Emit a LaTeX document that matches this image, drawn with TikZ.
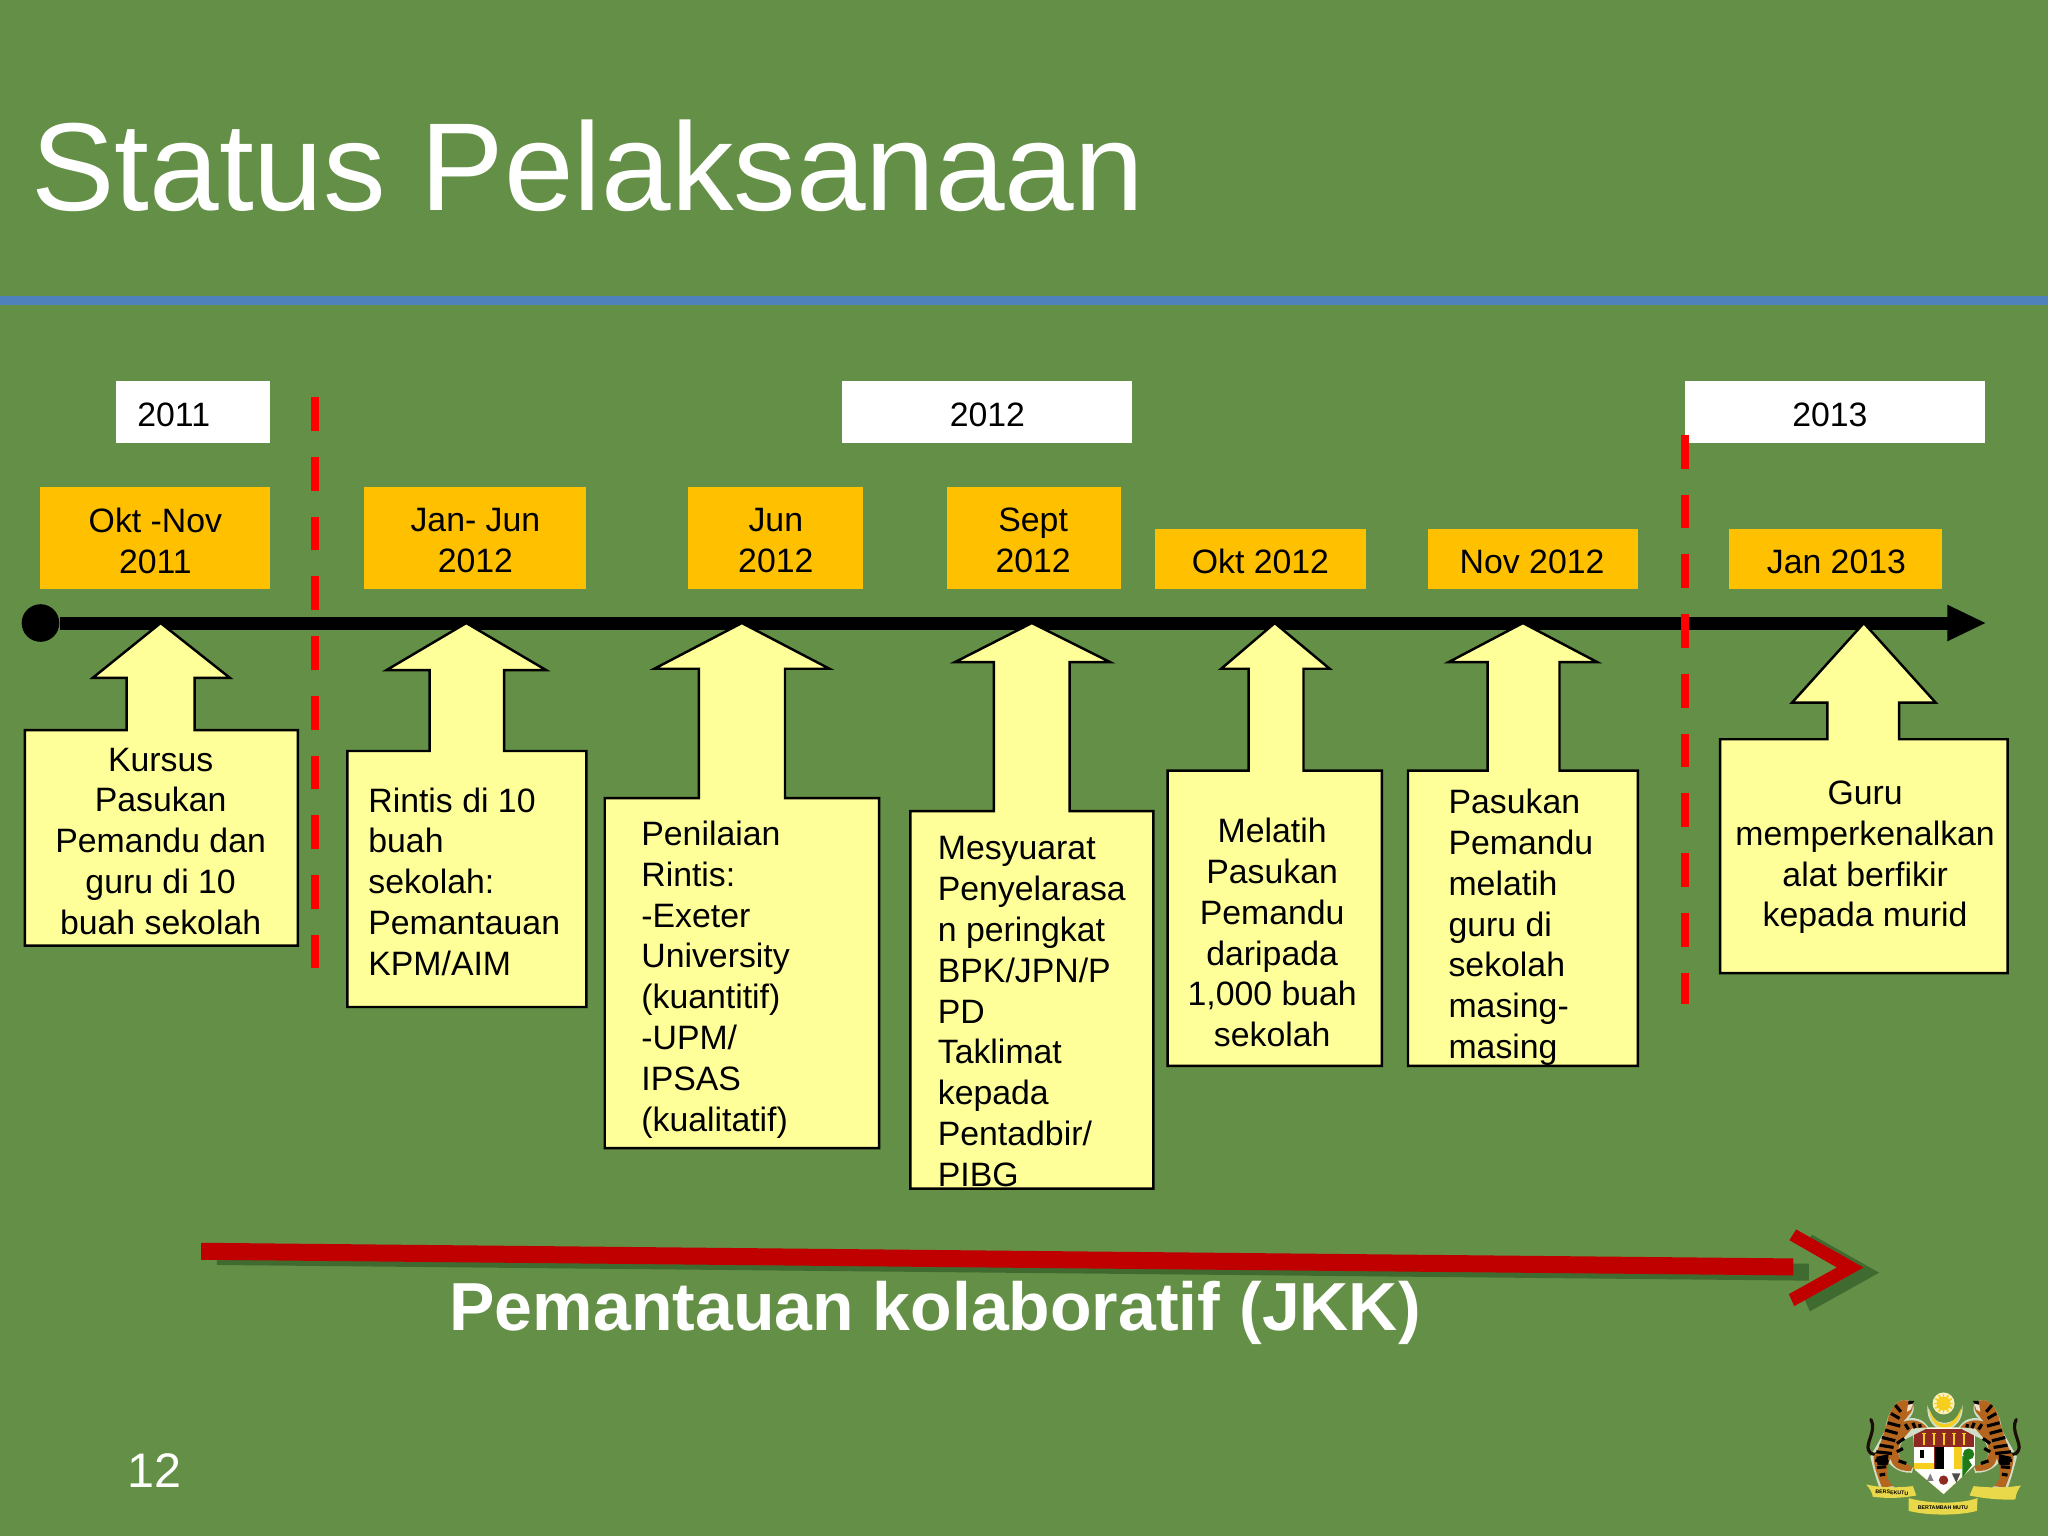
\documentclass[tikz,border=0pt]{standalone}
\usepackage{fontspec}
\setmainfont{Liberation Sans}
\usetikzlibrary{arrows.meta}
\definecolor{bgc}{HTML}{648F46}
\definecolor{rulec}{HTML}{4F81BD}
\definecolor{orangec}{HTML}{FFC000}
\definecolor{yellowc}{HTML}{FFFF99}
\definecolor{shadowc}{HTML}{406B30}
\definecolor{darkred}{HTML}{C00000}
\definecolor{tigerc}{HTML}{B5661E}
\definecolor{sunc}{HTML}{F6CF1E}
\definecolor{ribbonc}{HTML}{E8D84A}
\definecolor{shieldred}{HTML}{8E2A22}
\newcommand{\bodyfont}{\fontsize{9.62}{11.6}\selectfont}
\newcommand{\mytiger}{%
  \fill[white!70!bgc] (372,150) .. controls (410,150) and (405,190) .. (385,205) .. controls (410,200) and (430,210) .. (445,232) -- (370,270) .. controls (345,300) and (350,340) .. (400,352) -- (395,368) .. controls (350,370) and (325,340) .. (320,330) .. controls (310,360) and (310,400) .. (345,412) -- (300,420) .. controls (285,380) and (278,350) .. (270,320) -- (315,240) .. controls (320,190) and (345,150) .. (372,150) -- cycle;
  \draw[black!85!tigerc,line width=0.9pt,line cap=round] (272,208) .. controls (290,240) and (255,280) .. (265,300) .. controls (275,320) and (290,312) .. (300,305);
  \fill[tigerc] (370,150) .. controls (405,150) and (402,180) .. (385,195) .. controls (382,205) and (372,208) .. (368,215) .. controls (395,205) and (425,212) .. (440,232) -- (395,235) -- (365,270) .. controls (345,305) and (350,335) .. (398,350) -- (392,362) .. controls (352,365) and (335,345) .. (330,325) .. controls (315,360) and (318,395) .. (340,408) -- (305,412) .. controls (295,385) and (280,350) .. (280,320) .. controls (300,290) and (310,250) .. (320,220) .. controls (325,185) and (345,152) .. (370,150) -- cycle;
  \foreach \xa/\ya/\xb/\yb in {345/165/362/185,332/190/358/205,322/218/360/228,315/240/352/250,305/262/345/272,298/285/340/292,288/305/335/310,285/330/325/335,290/352/318/350,298/375/315/372,350/280/372/265,350/305/368/295,355/332/378/340,375/222/385/238,398/218/405/234,418/222/420/232}{
    \draw[black,line width=0.9pt] (\xa,\ya) -- (\xb,\yb);}
  \fill[black] (288,320) -- (325,312) -- (322,345) -- (292,345) -- cycle;
  \fill[white!80!tigerc] (383,165) -- (398,160) -- (392,178) -- (380,185) -- cycle;
  \fill[black] (385,152) -- (402,152) -- (398,160) -- (384,163) -- cycle;
}
\tikzset{
  x=0.013061cm, y=-0.013061cm,
  yearbox/.style={fill=white,draw=none,minimum height=0pt},
  monthbox/.style={fill=orangec,draw=none},
  callout/.style={fill=yellowc,draw=black,line width=0.7pt,line join=miter},
  bodytext/.style={font=\bodyfont,text=black,inner sep=0pt},
  ctext/.style={bodytext,align=center},
  ltext/.style={bodytext,align=left},
  yearline/.style={draw=red,line width=2.2pt,dash pattern=on 9.6pt off 7.4pt},
}
\begin{document}
\begin{tikzpicture}
\useasboundingbox (0,0) rectangle (1568,1176);
\fill[bgc] (0,0) rectangle (1568,1176);
\fill[rulec] (0,227) rectangle (1568,233.5);
\node[anchor=base west,inner sep=0pt,text=white,font=\fontsize{35.6}{40}\selectfont] (title) at (23.5,161) {Status Pelaksanaan};

% year boxes
\fill[yearbox] (89,292) rectangle (207,339);
\fill[yearbox] (645,292) rectangle (867,339);
\fill[yearbox] (1290,292) rectangle (1520,339);
\node[bodytext] (y11) at (133,317.5) {2011};
\node[bodytext] (y12) at (756,317.5) {2012};
\node[bodytext] (y13) at (1401,317.5) {2013};

% month boxes
\fill[monthbox] (31,373) rectangle (207,451);
\fill[monthbox] (279,373) rectangle (449,451);
\fill[monthbox] (527,373) rectangle (661,451);
\fill[monthbox] (725,373) rectangle (858,451);
\fill[monthbox] (884,405) rectangle (1046,451);
\fill[monthbox] (1093,405) rectangle (1254,451);
\fill[monthbox] (1324,405) rectangle (1487,451);
\node[ctext] (m1) at (119,414) {Okt -Nov\\2011};
\node[ctext] (m2) at (364,414) {Jan- Jun\\2012};
\node[ctext] (m3) at (594,414) {Jun\\2012};
\node[ctext] (m4) at (791,414) {Sept\\2012};
\node[ctext] (m5) at (965,430) {Okt 2012};
\node[ctext] (m6) at (1173,430) {Nov 2012};
\node[ctext] (m7) at (1406,430) {Jan 2013};

% dashed year separators
\coordinate (d1a) at (241,304);
\coordinate (d1b) at (241,741);
\coordinate (d2a) at (1290,333);
\coordinate (d2b) at (1290,769);
\draw[yearline] (d1a) -- (d1b);

% timeline
\node[circle,fill=black,draw=none,minimum size=10.7pt,inner sep=0pt] (tstart) at (31,477) {};
\coordinate (tend) at (1492,477);
\coordinate (ttip) at (1520,477);
\draw[line width=3.7pt,black] (tstart) -- (tend);
\fill[black] (1491,463) -- (ttip) -- (1491,491) -- cycle;
\draw[yearline] (d2a) -- (d2b);

% callouts
\draw[callout] (19,724) -- (19,559) -- (97,559) -- (97,519) -- (71,519) -- (123,477) -- (176,519) -- (149,519) -- (149,559) -- (228,559) -- (228,724) -- cycle;
\draw[callout] (266,771) -- (266,575) -- (329,575) -- (329,513) -- (296,513) -- (357,477) -- (418,513) -- (386,513) -- (386,575) -- (449,575) -- (449,771) -- cycle;
\draw[callout] (463,879) -- (463,611) -- (535,611) -- (535,512) -- (501,512) -- (568,477) -- (635,512) -- (601,512) -- (601,611) -- (673,611) -- (673,879) -- cycle;
\draw[callout] (697,910) -- (697,621) -- (761,621) -- (761,507) -- (731,507) -- (790,477) -- (850,507) -- (819,507) -- (819,621) -- (883,621) -- (883,910) -- cycle;
\draw[callout] (894,816) -- (894,590) -- (956,590) -- (956,512) -- (935,512) -- (976,477) -- (1018,512) -- (998,512) -- (998,590) -- (1058,590) -- (1058,816) -- cycle;
\draw[callout] (1078,816) -- (1078,590) -- (1139,590) -- (1139,507) -- (1109,507) -- (1166,477) -- (1223,507) -- (1194,507) -- (1194,590) -- (1254,590) -- (1254,816) -- cycle;
\draw[callout] (1317,745) -- (1317,566) -- (1399,566) -- (1399,538) -- (1372,538) -- (1427,477) -- (1482,538) -- (1454,538) -- (1454,566) -- (1537,566) -- (1537,745) -- cycle;

\node[ctext] (c1) at (123,644) {Kursus\\Pasukan\\Pemandu dan\\guru di 10\\buah sekolah};
\node[ltext,anchor=west] (c2) at (281.5,675) {Rintis di 10\\buah\\sekolah:\\Pemantauan\\KPM/AIM};
\node[ltext,anchor=west] (c3) at (490.5,750) {Penilaian\\Rintis:\\-Exeter\\University\\(kuantitif)\\-UPM/\\IPSAS\\(kualitatif)};
\node[ltext,anchor=west] (c4) at (717.5,774.5) {Mesyuarat\\Penyelarasa\\n peringkat\\BPK/JPN/P\\PD\\Taklimat\\kepada\\Pentadbir/\\PIBG};
\node[ctext] (c5) at (974,714) {Melatih\\Pasukan\\Pemandu\\daripada\\1,000 buah\\sekolah};
\node[ltext,anchor=west] (c6) at (1108.5,710) {Pasukan\\Pemandu\\melatih\\guru di\\sekolah\\masing-\\masing};
\node[ctext] (c7) at (1428,656.5) {Guru\\memperkenalkan\\alat berfikir\\kepada murid};

% monitoring arrow: shadow
\begin{scope}[shift={(12,4)}]
\fill[shadowc] (154,951.5) -- (1373,963.5) -- (1373,976.5) -- (154,964.5) -- cycle;
\fill[shadowc] (1375.2,941.3) -- (1426.7,970.4) -- (1373.7,1000) -- (1369.6,990.8) -- (1406.3,970.4) -- (1370,949.5) -- cycle;
\end{scope}
\fill[darkred] (154,951.5) -- (1373,963.5) -- (1373,976.5) -- (154,964.5) -- cycle;
\fill[darkred] (1375.2,941.3) -- (1426.7,970.4) -- (1373.7,1000) -- (1369.6,990.8) -- (1406.3,970.4) -- (1370,949.5) -- cycle;
\node[anchor=base,inner sep=0pt,text=white,font=\bfseries\fontsize{19.35}{22}\selectfont] (pem) at (716,1019) {Pemantauan kolaboratif (JKK)};
\node[anchor=base west,inner sep=0pt,text=white,font=\fontsize{13.8}{16}\selectfont] (num) at (97,1139) {12};

% coat of arms
\begin{scope}[shift={(1363,1033.7)},scale=0.2552]
  % crescent and sun
  \fill[white!70!bgc] (442,165) .. controls (436,215) and (470,240) .. (490,240) .. controls (520,240) and (552,210) .. (547,165) .. controls (540,205) and (515,218) .. (490,218) .. controls (470,218) and (450,200) .. (442,165) -- cycle;
  \fill[sunc] (447,175) .. controls (448,215) and (475,234) .. (492,234) .. controls (515,234) and (542,212) .. (542,175) .. controls (530,208) and (510,222) .. (492,222) .. controls (475,222) and (458,208) .. (447,175) -- cycle;
  \fill[white!70!sunc] (490,160) circle (33);
  \foreach \a in {0,30,...,330}{\draw[sunc,line width=0.5pt] (490,160) -- ++(\a:29);}
  \fill[sunc] (490,160) circle (21);
  % shield
  \fill[white!90!sunc] (398,232) -- (584,232) -- (584,345) -- (490,432) -- (405,360) -- cycle;
  \fill[shieldred] (402,237) rectangle (580,292);
  \foreach \dx in {430,460,490,520,550}{\fill[sunc] (\dx-3,252) rectangle (\dx+3,285); \fill[sunc] (\dx-6,248) rectangle (\dx+6,253);}
  \fill[white] (402,292) rectangle (460,340);
  \fill[black] (420,300) rectangle (430,325);
  \fill[sunc] (402,338) rectangle (460,356);
  \fill[shieldred] (460,292) rectangle (465,356);
  \fill[black] (465,292) rectangle (490,356);
  \fill[white] (490,292) rectangle (520,356);
  \fill[sunc] (520,292) rectangle (546,356);
  \fill[white] (546,292) rectangle (580,345);
  \fill[black!55!green!70!bgc] (565,312) circle (17);
  \fill[black!55!green!70!bgc] (546,318) -- (560,320) -- (575,345) -- (546,382) -- cycle;
  \fill[white] (410,360) -- (546,360) -- (490,428) -- cycle;
  \fill[black!50] (450,370) -- (460,392) -- (440,392) -- cycle;
  \fill[shieldred] (490,390) circle (14);
  \fill[black!70] (515,370) -- (540,370) -- (528,398) -- cycle;
  % tigers
  \mytiger
  \begin{scope}[shift={(980,0)},xscale=-1]
    \mytiger
  \end{scope}
  % ribbon
  \fill[ribbonc] (258,403) .. controls (310,415) and (360,412) .. (398,408) -- (408,436) .. controls (360,445) and (320,445) .. (278,440) .. controls (275,425) and (268,415) .. (258,403) -- cycle;
  \fill[ribbonc] (722,406) .. controls (670,415) and (620,412) .. (580,408) -- (568,436) .. controls (610,445) and (660,450) .. (705,448) .. controls (708,430) and (712,420) .. (722,406) -- cycle;
  \fill[ribbonc] (385,444) .. controls (450,462) and (540,462) .. (592,444) -- (590,482) .. controls (540,497) and (440,497) .. (385,482) -- cycle;
  \node[inner sep=0pt,text=black,rotate=-4,font=\fontsize{1.5}{2}\bfseries\selectfont] (motto1) at (335,427) {BERSEKUTU};
  \node[inner sep=0pt,text=black,font=\fontsize{1.5}{2}\bfseries\selectfont] (motto2) at (488,472) {BERTAMBAH MUTU};
\end{scope}
\end{tikzpicture}
\end{document}
